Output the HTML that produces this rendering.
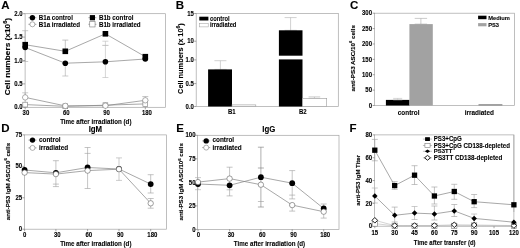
<!DOCTYPE html>
<html lang="en">
<head>
<meta charset="utf-8">
<title>Figure</title>
<style>
html,body{margin:0;padding:0;background:#fff;}
body{width:520px;height:248px;overflow:hidden;}
svg{display:block;font-family:"Liberation Sans",sans-serif;font-weight:bold;fill:#000;}
text{stroke:#000;stroke-width:0.1px;}
text.v{stroke-width:0.14px;}
</style>
</head>
<body>
<svg width="520" height="248" viewBox="0 0 520 248">
<rect x="0" y="0" width="520" height="248" fill="#fff"/>
<defs><filter id="soft" x="0" y="0" width="100%" height="100%" filterUnits="userSpaceOnUse"><feGaussianBlur stdDeviation="0.38"/></filter></defs>
<g id="fig" filter="url(#soft)">
<rect x="25.10" y="13.70" width="140.40" height="93.60" fill="none" stroke="#a4a4a4" stroke-width="0.7"/>
<text transform="translate(1.20,8.60) scale(1.0,1)" font-size="11.50" text-anchor="start">A</text>
<line x1="23.10" y1="13.70" x2="25.10" y2="13.70" stroke="#666" stroke-width="0.6"/>
<text transform="translate(22.60,15.86) scale(0.92,1)" font-size="6.52" text-anchor="end">2.0</text>
<line x1="23.10" y1="37.10" x2="25.10" y2="37.10" stroke="#666" stroke-width="0.6"/>
<text transform="translate(22.60,39.26) scale(0.92,1)" font-size="6.52" text-anchor="end">1.5</text>
<line x1="23.10" y1="60.50" x2="25.10" y2="60.50" stroke="#666" stroke-width="0.6"/>
<text transform="translate(22.60,62.66) scale(0.92,1)" font-size="6.52" text-anchor="end">1.0</text>
<line x1="23.10" y1="83.90" x2="25.10" y2="83.90" stroke="#666" stroke-width="0.6"/>
<text transform="translate(22.60,86.06) scale(0.92,1)" font-size="6.52" text-anchor="end">0.5</text>
<line x1="23.10" y1="107.30" x2="25.10" y2="107.30" stroke="#666" stroke-width="0.6"/>
<text transform="translate(22.60,109.46) scale(0.92,1)" font-size="6.52" text-anchor="end">0.0</text>
<line x1="25.20" y1="107.30" x2="25.20" y2="109.30" stroke="#666" stroke-width="0.6"/>
<line x1="65.30" y1="107.30" x2="65.30" y2="109.30" stroke="#666" stroke-width="0.6"/>
<line x1="105.40" y1="107.30" x2="105.40" y2="109.30" stroke="#666" stroke-width="0.6"/>
<line x1="145.30" y1="107.30" x2="145.30" y2="109.30" stroke="#666" stroke-width="0.6"/>
<text transform="translate(25.90,114.80) scale(0.92,1)" font-size="6.52" text-anchor="middle">30</text>
<text transform="translate(66.20,114.80) scale(0.92,1)" font-size="6.52" text-anchor="middle">60</text>
<text transform="translate(106.50,114.80) scale(0.92,1)" font-size="6.52" text-anchor="middle">90</text>
<text transform="translate(146.90,114.80) scale(0.92,1)" font-size="6.52" text-anchor="middle">180</text>
<text class="v" transform="translate(10.20,56.60) rotate(-90) scale(1,0.94)" font-size="8.3" text-anchor="middle">Cell numbers (x10<tspan dy="-3.49" font-size="5.64">6</tspan><tspan dy="3.49">)</tspan></text>
<text transform="translate(95.80,124.20) scale(0.92,1)" font-size="6.76" text-anchor="middle">Time after irradiation (d)</text>
<line x1="25.20" y1="30.70" x2="25.20" y2="61.50" stroke="#aaa" stroke-width="0.6"/>
<line x1="22.20" y1="30.70" x2="28.20" y2="30.70" stroke="#aaa" stroke-width="0.6"/>
<line x1="22.20" y1="61.50" x2="28.20" y2="61.50" stroke="#aaa" stroke-width="0.6"/>
<line x1="65.30" y1="40.10" x2="65.30" y2="51.00" stroke="#9c9c9c" stroke-width="0.6"/>
<line x1="62.30" y1="40.10" x2="68.30" y2="40.10" stroke="#9c9c9c" stroke-width="0.6"/>
<line x1="62.30" y1="51.00" x2="68.30" y2="51.00" stroke="#9c9c9c" stroke-width="0.6"/>
<line x1="65.30" y1="63.20" x2="65.30" y2="76.00" stroke="#aaa" stroke-width="0.6"/>
<line x1="62.30" y1="63.20" x2="68.30" y2="63.20" stroke="#aaa" stroke-width="0.6"/>
<line x1="62.30" y1="76.00" x2="68.30" y2="76.00" stroke="#aaa" stroke-width="0.6"/>
<line x1="105.40" y1="41.20" x2="105.40" y2="45.40" stroke="#b8b8b8" stroke-width="0.6"/>
<line x1="102.40" y1="41.20" x2="108.40" y2="41.20" stroke="#b8b8b8" stroke-width="0.6"/>
<line x1="102.40" y1="45.40" x2="108.40" y2="45.40" stroke="#b8b8b8" stroke-width="0.6"/>
<line x1="105.40" y1="45.40" x2="105.40" y2="77.50" stroke="#b8b8b8" stroke-width="0.6"/>
<line x1="102.40" y1="45.40" x2="108.40" y2="45.40" stroke="#b8b8b8" stroke-width="0.6"/>
<line x1="102.40" y1="77.50" x2="108.40" y2="77.50" stroke="#b8b8b8" stroke-width="0.6"/>
<line x1="25.20" y1="92.80" x2="25.20" y2="97.40" stroke="#aaa" stroke-width="0.6"/>
<line x1="22.20" y1="92.80" x2="28.20" y2="92.80" stroke="#aaa" stroke-width="0.6"/>
<line x1="22.20" y1="97.40" x2="28.20" y2="97.40" stroke="#aaa" stroke-width="0.6"/>
<line x1="145.30" y1="96.60" x2="145.30" y2="100.30" stroke="#999" stroke-width="0.6"/>
<line x1="142.30" y1="96.60" x2="148.30" y2="96.60" stroke="#999" stroke-width="0.6"/>
<line x1="142.30" y1="100.30" x2="148.30" y2="100.30" stroke="#999" stroke-width="0.6"/>
<polyline points="25.20,47.50 65.30,63.20 105.40,61.80 145.30,59.00" fill="none" stroke="#828282" stroke-width="0.7"/>
<polyline points="25.20,44.70 65.30,51.30 105.40,33.80 145.30,56.70" fill="none" stroke="#828282" stroke-width="0.7"/>
<polyline points="25.20,97.40 65.30,105.90 105.40,105.70 145.30,100.30" fill="none" stroke="#828282" stroke-width="0.7"/>
<polyline points="25.20,104.60 65.30,106.30 105.40,105.20 145.30,103.90" fill="none" stroke="#828282" stroke-width="0.7"/>
<rect x="22.80" y="102.20" width="4.80" height="4.80" fill="#fff" stroke="#7a7a7a" stroke-width="0.6"/>
<rect x="62.90" y="103.90" width="4.80" height="4.80" fill="#fff" stroke="#7a7a7a" stroke-width="0.6"/>
<rect x="103.00" y="102.80" width="4.80" height="4.80" fill="#fff" stroke="#7a7a7a" stroke-width="0.6"/>
<rect x="142.90" y="101.50" width="4.80" height="4.80" fill="#fff" stroke="#7a7a7a" stroke-width="0.6"/>
<circle cx="25.20" cy="97.40" r="2.7" fill="#fff" stroke="#7a7a7a" stroke-width="0.6"/>
<circle cx="65.30" cy="105.90" r="2.7" fill="#fff" stroke="#7a7a7a" stroke-width="0.6"/>
<circle cx="105.40" cy="105.70" r="2.7" fill="#fff" stroke="#7a7a7a" stroke-width="0.6"/>
<circle cx="145.30" cy="100.30" r="2.7" fill="#fff" stroke="#7a7a7a" stroke-width="0.6"/>
<circle cx="25.20" cy="47.50" r="2.8" fill="#000"/>
<circle cx="65.30" cy="63.20" r="2.8" fill="#000"/>
<circle cx="105.40" cy="61.80" r="2.8" fill="#000"/>
<circle cx="145.30" cy="59.00" r="2.8" fill="#000"/>
<rect x="22.40" y="41.90" width="5.60" height="5.60" fill="#000" stroke="none" stroke-width="0.7"/>
<rect x="62.50" y="48.50" width="5.60" height="5.60" fill="#000" stroke="none" stroke-width="0.7"/>
<rect x="102.60" y="31.00" width="5.60" height="5.60" fill="#000" stroke="none" stroke-width="0.7"/>
<rect x="142.50" y="53.90" width="5.60" height="5.60" fill="#000" stroke="none" stroke-width="0.7"/>
<line x1="28.40" y1="17.70" x2="36.40" y2="17.70" stroke="#828282" stroke-width="0.7"/>
<line x1="28.40" y1="24.30" x2="36.40" y2="24.30" stroke="#828282" stroke-width="0.7"/>
<circle cx="32.40" cy="17.70" r="2.7" fill="#000"/>
<circle cx="32.40" cy="24.30" r="2.5" fill="#fff" stroke="#7a7a7a" stroke-width="0.6"/>
<text transform="translate(38.70,19.90) scale(0.92,1)" font-size="6.76" text-anchor="start">B1a control</text>
<text transform="translate(38.70,26.50) scale(0.92,1)" font-size="6.76" text-anchor="start">B1a irradiated</text>
<line x1="88.40" y1="17.70" x2="96.40" y2="17.70" stroke="#828282" stroke-width="0.7"/>
<line x1="88.40" y1="24.30" x2="96.40" y2="24.30" stroke="#828282" stroke-width="0.7"/>
<rect x="89.80" y="15.10" width="5.20" height="5.20" fill="#000" stroke="none" stroke-width="0.7"/>
<rect x="89.75" y="21.65" width="5.30" height="5.30" fill="#fff" stroke="#7a7a7a" stroke-width="0.6"/>
<text transform="translate(98.90,19.90) scale(0.92,1)" font-size="6.76" text-anchor="start">B1b control</text>
<text transform="translate(98.90,26.50) scale(0.92,1)" font-size="6.76" text-anchor="start">B1b irradiated</text>
<rect x="196.20" y="13.50" width="142.10" height="93.00" fill="none" stroke="#a4a4a4" stroke-width="0.7"/>
<text transform="translate(175.70,9.20) scale(1.0,1)" font-size="11.50" text-anchor="start">B</text>
<line x1="194.20" y1="13.50" x2="196.20" y2="13.50" stroke="#666" stroke-width="0.6"/>
<text transform="translate(193.90,15.66) scale(0.92,1)" font-size="6.52" text-anchor="end">15</text>
<line x1="194.20" y1="41.20" x2="196.20" y2="41.20" stroke="#666" stroke-width="0.6"/>
<text transform="translate(193.90,43.36) scale(0.92,1)" font-size="6.52" text-anchor="end">10</text>
<line x1="194.20" y1="59.90" x2="196.20" y2="59.90" stroke="#666" stroke-width="0.6"/>
<text transform="translate(193.90,62.06) scale(0.92,1)" font-size="6.52" text-anchor="end">1.0</text>
<line x1="194.20" y1="83.60" x2="196.20" y2="83.60" stroke="#666" stroke-width="0.6"/>
<text transform="translate(193.90,85.76) scale(0.92,1)" font-size="6.52" text-anchor="end">0.5</text>
<line x1="194.20" y1="106.50" x2="196.20" y2="106.50" stroke="#666" stroke-width="0.6"/>
<text transform="translate(193.90,108.66) scale(0.92,1)" font-size="6.52" text-anchor="end">0.0</text>
<text class="v" transform="translate(182.90,58.60) rotate(-90) scale(1,0.95)" font-size="7.37" text-anchor="middle">Cell numbers (x 10<tspan dy="-3.10" font-size="5.01">6</tspan><tspan dy="3.10">)</tspan></text>
<line x1="220.40" y1="60.70" x2="220.40" y2="69.40" stroke="#b4b4b4" stroke-width="0.6"/>
<line x1="214.40" y1="60.70" x2="226.40" y2="60.70" stroke="#b4b4b4" stroke-width="0.6"/>
<line x1="214.40" y1="69.40" x2="226.40" y2="69.40" stroke="#b4b4b4" stroke-width="0.6"/>
<rect x="208.10" y="69.40" width="23.90" height="37.10" fill="#000" stroke="none" stroke-width="0.7"/>
<rect x="232.00" y="104.90" width="23.80" height="1.60" fill="#fff" stroke="#999" stroke-width="0.6"/>
<line x1="290.60" y1="17.60" x2="290.60" y2="30.30" stroke="#b0b0b0" stroke-width="0.6"/>
<line x1="284.60" y1="17.60" x2="296.60" y2="17.60" stroke="#b0b0b0" stroke-width="0.6"/>
<line x1="284.60" y1="30.30" x2="296.60" y2="30.30" stroke="#b0b0b0" stroke-width="0.6"/>
<rect x="278.90" y="30.30" width="23.60" height="76.20" fill="#000" stroke="none" stroke-width="0.7"/>
<rect x="277.50" y="55.70" width="26.50" height="3.70" fill="#fff" stroke="none" stroke-width="0.7"/>
<line x1="314.40" y1="96.90" x2="314.40" y2="98.40" stroke="#aaa" stroke-width="0.6"/>
<line x1="308.60" y1="96.90" x2="320.20" y2="96.90" stroke="#aaa" stroke-width="0.6"/>
<line x1="308.60" y1="98.40" x2="320.20" y2="98.40" stroke="#aaa" stroke-width="0.6"/>
<rect x="302.50" y="98.40" width="24.20" height="8.10" fill="#fff" stroke="#999" stroke-width="0.6"/>
<text transform="translate(231.80,114.40) scale(0.92,1)" font-size="6.52" text-anchor="middle">B1</text>
<text transform="translate(302.80,114.40) scale(0.92,1)" font-size="6.52" text-anchor="middle">B2</text>
<rect x="199.30" y="16.70" width="9.10" height="3.80" fill="#000" stroke="none" stroke-width="0.7"/>
<text transform="translate(210.00,20.70) scale(0.92,1)" font-size="6.30" text-anchor="start">control</text>
<rect x="199.50" y="23.40" width="8.70" height="3.50" fill="#fff" stroke="#999" stroke-width="0.5"/>
<text transform="translate(210.00,27.30) scale(0.92,1)" font-size="6.30" text-anchor="start">irradiated</text>
<rect x="374.60" y="13.20" width="139.80" height="92.30" fill="none" stroke="#a4a4a4" stroke-width="0.7"/>
<text transform="translate(350.00,9.00) scale(1.0,1)" font-size="11.50" text-anchor="start">C</text>
<line x1="372.60" y1="13.20" x2="374.60" y2="13.20" stroke="#666" stroke-width="0.6"/>
<text transform="translate(372.00,15.36) scale(0.92,1)" font-size="6.52" text-anchor="end">300</text>
<line x1="372.60" y1="28.58" x2="374.60" y2="28.58" stroke="#666" stroke-width="0.6"/>
<text transform="translate(372.00,30.74) scale(0.92,1)" font-size="6.52" text-anchor="end">250</text>
<line x1="372.60" y1="43.97" x2="374.60" y2="43.97" stroke="#666" stroke-width="0.6"/>
<text transform="translate(372.00,46.13) scale(0.92,1)" font-size="6.52" text-anchor="end">200</text>
<line x1="372.60" y1="59.35" x2="374.60" y2="59.35" stroke="#666" stroke-width="0.6"/>
<text transform="translate(372.00,61.51) scale(0.92,1)" font-size="6.52" text-anchor="end">150</text>
<line x1="372.60" y1="74.73" x2="374.60" y2="74.73" stroke="#666" stroke-width="0.6"/>
<text transform="translate(372.00,76.89) scale(0.92,1)" font-size="6.52" text-anchor="end">100</text>
<line x1="372.60" y1="90.12" x2="374.60" y2="90.12" stroke="#666" stroke-width="0.6"/>
<text transform="translate(372.00,92.28) scale(0.92,1)" font-size="6.52" text-anchor="end">50</text>
<line x1="372.60" y1="105.50" x2="374.60" y2="105.50" stroke="#666" stroke-width="0.6"/>
<text transform="translate(372.00,107.66) scale(0.92,1)" font-size="6.52" text-anchor="end">0</text>
<text class="v" transform="translate(354.90,58.20) rotate(-90) scale(1,1.0)" font-size="6.26" text-anchor="middle">anti-PS3 ASC/10<tspan dy="-2.63" font-size="4.26">6</tspan><tspan dy="2.63"> cells</tspan></text>
<rect x="385.90" y="99.90" width="23.60" height="5.60" fill="#000" stroke="none" stroke-width="0.7"/>
<line x1="397.70" y1="98.40" x2="397.70" y2="99.90" stroke="#bbb" stroke-width="0.6"/>
<line x1="393.20" y1="98.40" x2="402.20" y2="98.40" stroke="#bbb" stroke-width="0.6"/>
<line x1="393.20" y1="99.90" x2="402.20" y2="99.90" stroke="#bbb" stroke-width="0.6"/>
<line x1="420.90" y1="18.40" x2="420.90" y2="24.10" stroke="#a8a8a8" stroke-width="0.6"/>
<line x1="414.70" y1="18.40" x2="427.10" y2="18.40" stroke="#a8a8a8" stroke-width="0.6"/>
<line x1="414.70" y1="24.10" x2="427.10" y2="24.10" stroke="#a8a8a8" stroke-width="0.6"/>
<rect x="409.40" y="24.10" width="23.40" height="81.40" fill="#a2a2a2" stroke="none" stroke-width="0.7"/>
<rect x="478.50" y="104.20" width="23.90" height="1.30" fill="#8a8a8a" stroke="none" stroke-width="0.7"/>
<text transform="translate(408.60,115.20) scale(0.92,1)" font-size="6.96" text-anchor="middle">control</text>
<text transform="translate(479.30,115.20) scale(0.92,1)" font-size="6.96" text-anchor="middle">irradiated</text>
<rect x="478.10" y="15.70" width="8.40" height="3.50" fill="#000" stroke="none" stroke-width="0.7"/>
<text transform="translate(488.20,19.50) scale(0.92,1)" font-size="6.25" text-anchor="start">Medium</text>
<rect x="478.10" y="23.10" width="8.40" height="3.20" fill="#a2a2a2" stroke="none" stroke-width="0.7"/>
<text transform="translate(488.20,26.60) scale(0.92,1)" font-size="6.25" text-anchor="start">PS3</text>
<rect x="24.40" y="134.90" width="142.00" height="94.30" fill="none" stroke="#a4a4a4" stroke-width="0.7"/>
<text transform="translate(1.30,131.60) scale(1.0,1)" font-size="11.50" text-anchor="start">D</text>
<line x1="22.40" y1="134.90" x2="24.40" y2="134.90" stroke="#666" stroke-width="0.6"/>
<text transform="translate(22.20,137.06) scale(0.92,1)" font-size="6.52" text-anchor="end">75</text>
<line x1="22.40" y1="166.33" x2="24.40" y2="166.33" stroke="#666" stroke-width="0.6"/>
<text transform="translate(22.20,168.49) scale(0.92,1)" font-size="6.52" text-anchor="end">50</text>
<line x1="22.40" y1="197.77" x2="24.40" y2="197.77" stroke="#666" stroke-width="0.6"/>
<text transform="translate(22.20,199.93) scale(0.92,1)" font-size="6.52" text-anchor="end">25</text>
<line x1="22.40" y1="229.20" x2="24.40" y2="229.20" stroke="#666" stroke-width="0.6"/>
<text transform="translate(22.20,231.36) scale(0.92,1)" font-size="6.52" text-anchor="end">0</text>
<line x1="24.60" y1="229.20" x2="24.60" y2="231.20" stroke="#666" stroke-width="0.6"/>
<line x1="55.90" y1="229.20" x2="55.90" y2="231.20" stroke="#666" stroke-width="0.6"/>
<line x1="87.60" y1="229.20" x2="87.60" y2="231.20" stroke="#666" stroke-width="0.6"/>
<line x1="119.00" y1="229.20" x2="119.00" y2="231.20" stroke="#666" stroke-width="0.6"/>
<line x1="150.70" y1="229.20" x2="150.70" y2="231.20" stroke="#666" stroke-width="0.6"/>
<text transform="translate(24.70,236.80) scale(0.92,1)" font-size="6.52" text-anchor="middle">0</text>
<text transform="translate(57.20,236.80) scale(0.92,1)" font-size="6.52" text-anchor="middle">30</text>
<text transform="translate(88.80,236.80) scale(0.92,1)" font-size="6.52" text-anchor="middle">60</text>
<text transform="translate(120.20,236.80) scale(0.92,1)" font-size="6.52" text-anchor="middle">90</text>
<text transform="translate(152.30,236.80) scale(0.92,1)" font-size="6.52" text-anchor="middle">180</text>
<text class="v" transform="translate(9.90,181.60) rotate(-90) scale(1,1.0)" font-size="6.14" text-anchor="middle">anti-PS3 IgM ASC/10<tspan dy="-2.58" font-size="4.18">6</tspan><tspan dy="2.58"> cells</tspan></text>
<text transform="translate(95.80,246.00) scale(0.92,1)" font-size="6.76" text-anchor="middle">Time after irradiation (d)</text>
<text transform="translate(95.40,131.50) scale(0.92,1)" font-size="8.53" text-anchor="middle">IgM</text>
<line x1="55.90" y1="160.70" x2="55.90" y2="186.60" stroke="#9c9c9c" stroke-width="0.6"/>
<line x1="52.90" y1="160.70" x2="58.90" y2="160.70" stroke="#9c9c9c" stroke-width="0.6"/>
<line x1="52.90" y1="186.60" x2="58.90" y2="186.60" stroke="#9c9c9c" stroke-width="0.6"/>
<line x1="52.90" y1="184.10" x2="58.90" y2="184.10" stroke="#9c9c9c" stroke-width="0.6"/>
<line x1="87.60" y1="147.50" x2="87.60" y2="188.50" stroke="#9c9c9c" stroke-width="0.6"/>
<line x1="84.60" y1="147.50" x2="90.60" y2="147.50" stroke="#9c9c9c" stroke-width="0.6"/>
<line x1="84.60" y1="188.50" x2="90.60" y2="188.50" stroke="#9c9c9c" stroke-width="0.6"/>
<line x1="84.60" y1="153.40" x2="90.60" y2="153.40" stroke="#9c9c9c" stroke-width="0.6"/>
<line x1="119.00" y1="157.90" x2="119.00" y2="180.40" stroke="#aaa" stroke-width="0.6"/>
<line x1="116.00" y1="157.90" x2="122.00" y2="157.90" stroke="#aaa" stroke-width="0.6"/>
<line x1="116.00" y1="180.40" x2="122.00" y2="180.40" stroke="#aaa" stroke-width="0.6"/>
<line x1="150.70" y1="174.70" x2="150.70" y2="193.00" stroke="#9c9c9c" stroke-width="0.6"/>
<line x1="147.70" y1="174.70" x2="153.70" y2="174.70" stroke="#9c9c9c" stroke-width="0.6"/>
<line x1="147.70" y1="193.00" x2="153.70" y2="193.00" stroke="#9c9c9c" stroke-width="0.6"/>
<line x1="150.70" y1="198.50" x2="150.70" y2="208.20" stroke="#9c9c9c" stroke-width="0.6"/>
<line x1="147.70" y1="198.50" x2="153.70" y2="198.50" stroke="#9c9c9c" stroke-width="0.6"/>
<line x1="147.70" y1="208.20" x2="153.70" y2="208.20" stroke="#9c9c9c" stroke-width="0.6"/>
<polyline points="24.60,170.00 55.90,172.80 87.60,167.50 119.00,169.00 150.70,184.10" fill="none" stroke="#828282" stroke-width="0.7"/>
<polyline points="24.60,172.60 55.90,174.10 87.60,170.60 119.00,169.20 150.70,203.30" fill="none" stroke="#828282" stroke-width="0.7"/>
<circle cx="24.60" cy="170.00" r="2.9" fill="#000"/>
<circle cx="55.90" cy="172.80" r="2.9" fill="#000"/>
<circle cx="87.60" cy="167.50" r="2.9" fill="#000"/>
<circle cx="119.00" cy="169.00" r="2.9" fill="#000"/>
<circle cx="150.70" cy="184.10" r="2.9" fill="#000"/>
<circle cx="24.60" cy="172.60" r="2.7" fill="#fff" stroke="#606060" stroke-width="0.6"/>
<circle cx="55.90" cy="174.10" r="2.7" fill="#fff" stroke="#606060" stroke-width="0.6"/>
<circle cx="87.60" cy="170.60" r="2.7" fill="#fff" stroke="#606060" stroke-width="0.6"/>
<circle cx="119.00" cy="169.20" r="2.7" fill="#fff" stroke="#606060" stroke-width="0.6"/>
<circle cx="150.70" cy="203.30" r="2.7" fill="#fff" stroke="#606060" stroke-width="0.6"/>
<line x1="28.50" y1="140.10" x2="36.50" y2="140.10" stroke="#828282" stroke-width="0.7"/>
<line x1="28.50" y1="147.90" x2="36.50" y2="147.90" stroke="#828282" stroke-width="0.7"/>
<circle cx="32.50" cy="140.10" r="2.7" fill="#000"/>
<circle cx="32.50" cy="147.90" r="2.5" fill="#fff" stroke="#7a7a7a" stroke-width="0.6"/>
<text transform="translate(39.00,142.20) scale(0.92,1)" font-size="6.96" text-anchor="start">control</text>
<text transform="translate(39.00,149.60) scale(0.92,1)" font-size="6.96" text-anchor="start">irradiated</text>
<rect x="197.40" y="135.30" width="141.60" height="94.10" fill="none" stroke="#a4a4a4" stroke-width="0.7"/>
<text transform="translate(176.30,131.60) scale(1.0,1)" font-size="11.50" text-anchor="start">E</text>
<line x1="195.40" y1="135.30" x2="197.40" y2="135.30" stroke="#666" stroke-width="0.6"/>
<text transform="translate(195.50,137.46) scale(0.92,1)" font-size="6.52" text-anchor="end">100</text>
<line x1="195.40" y1="158.83" x2="197.40" y2="158.83" stroke="#666" stroke-width="0.6"/>
<text transform="translate(195.50,160.99) scale(0.92,1)" font-size="6.52" text-anchor="end">75</text>
<line x1="195.40" y1="182.35" x2="197.40" y2="182.35" stroke="#666" stroke-width="0.6"/>
<text transform="translate(195.50,184.51) scale(0.92,1)" font-size="6.52" text-anchor="end">50</text>
<line x1="195.40" y1="205.88" x2="197.40" y2="205.88" stroke="#666" stroke-width="0.6"/>
<text transform="translate(195.50,208.03) scale(0.92,1)" font-size="6.52" text-anchor="end">25</text>
<line x1="195.40" y1="229.40" x2="197.40" y2="229.40" stroke="#666" stroke-width="0.6"/>
<text transform="translate(195.50,231.56) scale(0.92,1)" font-size="6.52" text-anchor="end">0</text>
<line x1="198.00" y1="229.40" x2="198.00" y2="231.40" stroke="#666" stroke-width="0.6"/>
<line x1="229.60" y1="229.40" x2="229.60" y2="231.40" stroke="#666" stroke-width="0.6"/>
<line x1="260.90" y1="229.40" x2="260.90" y2="231.40" stroke="#666" stroke-width="0.6"/>
<line x1="292.20" y1="229.40" x2="292.20" y2="231.40" stroke="#666" stroke-width="0.6"/>
<line x1="323.70" y1="229.40" x2="323.70" y2="231.40" stroke="#666" stroke-width="0.6"/>
<text transform="translate(198.30,236.80) scale(0.92,1)" font-size="6.52" text-anchor="middle">0</text>
<text transform="translate(231.00,236.80) scale(0.92,1)" font-size="6.52" text-anchor="middle">30</text>
<text transform="translate(262.30,236.80) scale(0.92,1)" font-size="6.52" text-anchor="middle">60</text>
<text transform="translate(293.60,236.80) scale(0.92,1)" font-size="6.52" text-anchor="middle">90</text>
<text transform="translate(325.20,236.80) scale(0.92,1)" font-size="6.52" text-anchor="middle">180</text>
<text class="v" transform="translate(183.40,181.80) rotate(-90) scale(1,1.0)" font-size="6.14" text-anchor="middle">anti-PS3 IgM ASC/10<tspan dy="-2.58" font-size="4.18">6</tspan><tspan dy="2.58"> cells</tspan></text>
<text transform="translate(269.50,246.00) scale(0.92,1)" font-size="6.76" text-anchor="middle">Time after irradiation (d)</text>
<text transform="translate(268.90,131.90) scale(0.92,1)" font-size="8.53" text-anchor="middle">IgG</text>
<line x1="198.00" y1="177.60" x2="198.00" y2="189.70" stroke="#aaa" stroke-width="0.6"/>
<line x1="195.00" y1="177.60" x2="201.00" y2="177.60" stroke="#aaa" stroke-width="0.6"/>
<line x1="195.00" y1="189.70" x2="201.00" y2="189.70" stroke="#aaa" stroke-width="0.6"/>
<line x1="229.60" y1="167.20" x2="229.60" y2="195.90" stroke="#9c9c9c" stroke-width="0.6"/>
<line x1="226.60" y1="167.20" x2="232.60" y2="167.20" stroke="#9c9c9c" stroke-width="0.6"/>
<line x1="226.60" y1="195.90" x2="232.60" y2="195.90" stroke="#9c9c9c" stroke-width="0.6"/>
<line x1="226.60" y1="189.80" x2="232.60" y2="189.80" stroke="#9c9c9c" stroke-width="0.6"/>
<line x1="260.90" y1="147.20" x2="260.90" y2="207.00" stroke="#777" stroke-width="0.6"/>
<line x1="257.90" y1="147.20" x2="263.90" y2="147.20" stroke="#777" stroke-width="0.6"/>
<line x1="257.90" y1="207.00" x2="263.90" y2="207.00" stroke="#777" stroke-width="0.6"/>
<line x1="257.90" y1="168.00" x2="263.90" y2="168.00" stroke="#777" stroke-width="0.6"/>
<line x1="257.90" y1="201.50" x2="263.90" y2="201.50" stroke="#9c9c9c" stroke-width="0.6"/>
<line x1="292.20" y1="170.60" x2="292.20" y2="198.90" stroke="#9c9c9c" stroke-width="0.6"/>
<line x1="289.20" y1="170.60" x2="295.20" y2="170.60" stroke="#9c9c9c" stroke-width="0.6"/>
<line x1="289.20" y1="198.90" x2="295.20" y2="198.90" stroke="#9c9c9c" stroke-width="0.6"/>
<line x1="289.20" y1="195.10" x2="295.20" y2="195.10" stroke="#9c9c9c" stroke-width="0.6"/>
<line x1="292.20" y1="205.10" x2="292.20" y2="211.10" stroke="#9c9c9c" stroke-width="0.6"/>
<line x1="289.20" y1="205.10" x2="295.20" y2="205.10" stroke="#9c9c9c" stroke-width="0.6"/>
<line x1="289.20" y1="211.10" x2="295.20" y2="211.10" stroke="#9c9c9c" stroke-width="0.6"/>
<line x1="323.70" y1="204.00" x2="323.70" y2="218.10" stroke="#9c9c9c" stroke-width="0.6"/>
<line x1="320.70" y1="204.00" x2="326.70" y2="204.00" stroke="#9c9c9c" stroke-width="0.6"/>
<line x1="320.70" y1="218.10" x2="326.70" y2="218.10" stroke="#9c9c9c" stroke-width="0.6"/>
<polyline points="198.00,184.00 229.60,185.30 260.90,177.20 292.20,183.20 323.70,208.50" fill="none" stroke="#828282" stroke-width="0.7"/>
<polyline points="198.00,182.10 229.60,178.60 260.90,184.70 292.20,205.10 323.70,211.70" fill="none" stroke="#828282" stroke-width="0.7"/>
<circle cx="198.00" cy="184.00" r="2.9" fill="#000"/>
<circle cx="229.60" cy="185.30" r="2.9" fill="#000"/>
<circle cx="260.90" cy="177.20" r="2.9" fill="#000"/>
<circle cx="292.20" cy="183.20" r="2.9" fill="#000"/>
<circle cx="323.70" cy="208.50" r="2.9" fill="#000"/>
<circle cx="198.00" cy="182.10" r="2.7" fill="#fff" stroke="#606060" stroke-width="0.6"/>
<circle cx="229.60" cy="178.60" r="2.7" fill="#fff" stroke="#606060" stroke-width="0.6"/>
<circle cx="260.90" cy="184.70" r="2.7" fill="#fff" stroke="#606060" stroke-width="0.6"/>
<circle cx="292.20" cy="205.10" r="2.7" fill="#fff" stroke="#606060" stroke-width="0.6"/>
<circle cx="323.70" cy="211.70" r="2.7" fill="#fff" stroke="#606060" stroke-width="0.6"/>
<line x1="202.20" y1="140.90" x2="210.20" y2="140.90" stroke="#828282" stroke-width="0.7"/>
<line x1="202.20" y1="147.60" x2="210.20" y2="147.60" stroke="#828282" stroke-width="0.7"/>
<circle cx="206.20" cy="140.90" r="2.7" fill="#000"/>
<circle cx="206.20" cy="147.60" r="2.5" fill="#fff" stroke="#7a7a7a" stroke-width="0.6"/>
<text transform="translate(212.50,142.40) scale(0.92,1)" font-size="6.96" text-anchor="start">control</text>
<text transform="translate(212.50,149.50) scale(0.92,1)" font-size="6.96" text-anchor="start">irradiated</text>
<rect x="374.60" y="134.90" width="139.30" height="91.30" fill="none" stroke="#a4a4a4" stroke-width="0.7"/>
<text transform="translate(349.50,131.60) scale(1.0,1)" font-size="11.50" text-anchor="start">F</text>
<line x1="372.60" y1="134.90" x2="374.60" y2="134.90" stroke="#666" stroke-width="0.6"/>
<text transform="translate(372.20,137.06) scale(0.92,1)" font-size="6.52" text-anchor="end">80</text>
<line x1="372.60" y1="157.72" x2="374.60" y2="157.72" stroke="#666" stroke-width="0.6"/>
<text transform="translate(372.20,159.88) scale(0.92,1)" font-size="6.52" text-anchor="end">60</text>
<line x1="372.60" y1="180.55" x2="374.60" y2="180.55" stroke="#666" stroke-width="0.6"/>
<text transform="translate(372.20,182.71) scale(0.92,1)" font-size="6.52" text-anchor="end">40</text>
<line x1="372.60" y1="203.38" x2="374.60" y2="203.38" stroke="#666" stroke-width="0.6"/>
<text transform="translate(372.20,205.53) scale(0.92,1)" font-size="6.52" text-anchor="end">20</text>
<line x1="372.60" y1="226.20" x2="374.60" y2="226.20" stroke="#666" stroke-width="0.6"/>
<text transform="translate(372.20,228.36) scale(0.92,1)" font-size="6.52" text-anchor="end">0</text>
<line x1="374.80" y1="226.20" x2="374.80" y2="228.20" stroke="#666" stroke-width="0.6"/>
<line x1="394.67" y1="226.20" x2="394.67" y2="228.20" stroke="#666" stroke-width="0.6"/>
<line x1="414.54" y1="226.20" x2="414.54" y2="228.20" stroke="#666" stroke-width="0.6"/>
<line x1="434.41" y1="226.20" x2="434.41" y2="228.20" stroke="#666" stroke-width="0.6"/>
<line x1="454.28" y1="226.20" x2="454.28" y2="228.20" stroke="#666" stroke-width="0.6"/>
<line x1="474.15" y1="226.20" x2="474.15" y2="228.20" stroke="#666" stroke-width="0.6"/>
<line x1="494.02" y1="226.20" x2="494.02" y2="228.20" stroke="#666" stroke-width="0.6"/>
<line x1="513.89" y1="226.20" x2="513.89" y2="228.20" stroke="#666" stroke-width="0.6"/>
<text transform="translate(374.80,234.90) scale(0.92,1)" font-size="6.52" text-anchor="middle">15</text>
<text transform="translate(394.67,234.90) scale(0.92,1)" font-size="6.52" text-anchor="middle">30</text>
<text transform="translate(414.54,234.90) scale(0.92,1)" font-size="6.52" text-anchor="middle">45</text>
<text transform="translate(434.41,234.90) scale(0.92,1)" font-size="6.52" text-anchor="middle">60</text>
<text transform="translate(454.28,234.90) scale(0.92,1)" font-size="6.52" text-anchor="middle">75</text>
<text transform="translate(474.15,234.90) scale(0.92,1)" font-size="6.52" text-anchor="middle">90</text>
<text transform="translate(494.02,234.90) scale(0.92,1)" font-size="6.52" text-anchor="middle">105</text>
<text transform="translate(513.89,234.90) scale(0.92,1)" font-size="6.52" text-anchor="middle">120</text>
<text class="v" transform="translate(360.30,180.30) rotate(-90) scale(1,1.0)" font-size="6.02" text-anchor="middle">anti-PS3 IgM Titer</text>
<text transform="translate(444.70,245.00) scale(0.92,1)" font-size="6.52" text-anchor="middle">Time after transfer (d)</text>
<line x1="374.80" y1="139.40" x2="374.80" y2="160.80" stroke="#9c9c9c" stroke-width="0.6"/>
<line x1="371.80" y1="139.40" x2="377.80" y2="139.40" stroke="#9c9c9c" stroke-width="0.6"/>
<line x1="371.80" y1="160.80" x2="377.80" y2="160.80" stroke="#9c9c9c" stroke-width="0.6"/>
<line x1="394.67" y1="181.50" x2="394.67" y2="189.50" stroke="#aaa" stroke-width="0.6"/>
<line x1="391.67" y1="181.50" x2="397.67" y2="181.50" stroke="#aaa" stroke-width="0.6"/>
<line x1="391.67" y1="189.50" x2="397.67" y2="189.50" stroke="#aaa" stroke-width="0.6"/>
<line x1="414.54" y1="165.70" x2="414.54" y2="184.50" stroke="#9c9c9c" stroke-width="0.6"/>
<line x1="411.54" y1="165.70" x2="417.54" y2="165.70" stroke="#9c9c9c" stroke-width="0.6"/>
<line x1="411.54" y1="184.50" x2="417.54" y2="184.50" stroke="#9c9c9c" stroke-width="0.6"/>
<line x1="434.41" y1="187.00" x2="434.41" y2="204.00" stroke="#9c9c9c" stroke-width="0.6"/>
<line x1="431.41" y1="187.00" x2="437.41" y2="187.00" stroke="#9c9c9c" stroke-width="0.6"/>
<line x1="431.41" y1="204.00" x2="437.41" y2="204.00" stroke="#9c9c9c" stroke-width="0.6"/>
<line x1="454.28" y1="184.30" x2="454.28" y2="199.30" stroke="#9c9c9c" stroke-width="0.6"/>
<line x1="451.28" y1="184.30" x2="457.28" y2="184.30" stroke="#9c9c9c" stroke-width="0.6"/>
<line x1="451.28" y1="199.30" x2="457.28" y2="199.30" stroke="#9c9c9c" stroke-width="0.6"/>
<line x1="474.15" y1="194.50" x2="474.15" y2="207.60" stroke="#9c9c9c" stroke-width="0.6"/>
<line x1="471.15" y1="194.50" x2="477.15" y2="194.50" stroke="#9c9c9c" stroke-width="0.6"/>
<line x1="471.15" y1="207.60" x2="477.15" y2="207.60" stroke="#9c9c9c" stroke-width="0.6"/>
<line x1="513.89" y1="134.90" x2="513.89" y2="212.00" stroke="#9c9c9c" stroke-width="0.6"/>
<line x1="374.80" y1="188.00" x2="374.80" y2="203.00" stroke="#aaa" stroke-width="0.6"/>
<line x1="371.80" y1="188.00" x2="377.80" y2="188.00" stroke="#aaa" stroke-width="0.6"/>
<line x1="371.80" y1="203.00" x2="377.80" y2="203.00" stroke="#aaa" stroke-width="0.6"/>
<line x1="394.67" y1="207.10" x2="394.67" y2="222.00" stroke="#9c9c9c" stroke-width="0.6"/>
<line x1="391.67" y1="207.10" x2="397.67" y2="207.10" stroke="#9c9c9c" stroke-width="0.6"/>
<line x1="391.67" y1="222.00" x2="397.67" y2="222.00" stroke="#9c9c9c" stroke-width="0.6"/>
<line x1="414.54" y1="206.50" x2="414.54" y2="219.50" stroke="#aaa" stroke-width="0.6"/>
<line x1="411.54" y1="206.50" x2="417.54" y2="206.50" stroke="#aaa" stroke-width="0.6"/>
<line x1="411.54" y1="219.50" x2="417.54" y2="219.50" stroke="#aaa" stroke-width="0.6"/>
<line x1="434.41" y1="206.00" x2="434.41" y2="220.00" stroke="#9c9c9c" stroke-width="0.6"/>
<line x1="431.41" y1="206.00" x2="437.41" y2="206.00" stroke="#9c9c9c" stroke-width="0.6"/>
<line x1="431.41" y1="220.00" x2="437.41" y2="220.00" stroke="#9c9c9c" stroke-width="0.6"/>
<line x1="454.28" y1="204.50" x2="454.28" y2="216.50" stroke="#9c9c9c" stroke-width="0.6"/>
<line x1="451.28" y1="204.50" x2="457.28" y2="204.50" stroke="#9c9c9c" stroke-width="0.6"/>
<line x1="451.28" y1="216.50" x2="457.28" y2="216.50" stroke="#9c9c9c" stroke-width="0.6"/>
<line x1="474.15" y1="214.00" x2="474.15" y2="222.50" stroke="#aaa" stroke-width="0.6"/>
<line x1="471.15" y1="214.00" x2="477.15" y2="214.00" stroke="#aaa" stroke-width="0.6"/>
<line x1="471.15" y1="222.50" x2="477.15" y2="222.50" stroke="#aaa" stroke-width="0.6"/>
<polyline points="374.80,150.20 394.67,185.60 414.54,175.20 434.41,196.00 454.28,191.50 474.15,201.70 513.89,204.80" fill="none" stroke="#828282" stroke-width="0.7"/>
<polyline points="374.80,196.00 394.67,215.30 414.54,213.10 434.41,213.90 454.28,210.90 474.15,218.40 513.89,222.20" fill="none" stroke="#828282" stroke-width="0.7"/>
<polyline points="374.80,223.60 394.67,225.90 414.54,225.90 434.41,225.90 454.28,225.80 474.15,225.80 513.89,226.00" fill="none" stroke="#a8a8a8" stroke-width="0.5"/>
<polyline points="374.80,220.30 394.67,225.60 414.54,225.50 434.41,225.50 454.28,224.80 474.15,225.00 513.89,225.60" fill="none" stroke="#a8a8a8" stroke-width="0.5"/>
<rect x="372.20" y="221.00" width="5.20" height="5.20" fill="#fff" stroke="#7a7a7a" stroke-width="0.6"/>
<rect x="392.07" y="223.30" width="5.20" height="5.20" fill="#fff" stroke="#7a7a7a" stroke-width="0.6"/>
<rect x="411.94" y="223.30" width="5.20" height="5.20" fill="#fff" stroke="#7a7a7a" stroke-width="0.6"/>
<rect x="431.81" y="223.30" width="5.20" height="5.20" fill="#fff" stroke="#7a7a7a" stroke-width="0.6"/>
<rect x="451.68" y="223.20" width="5.20" height="5.20" fill="#fff" stroke="#7a7a7a" stroke-width="0.6"/>
<rect x="471.55" y="223.20" width="5.20" height="5.20" fill="#fff" stroke="#7a7a7a" stroke-width="0.6"/>
<rect x="511.29" y="223.40" width="5.20" height="5.20" fill="#fff" stroke="#7a7a7a" stroke-width="0.6"/>
<polygon points="374.80,217.50 377.60,220.30 374.80,223.10 372.00,220.30" fill="#fff" stroke="#1a1a1a" stroke-width="1.0"/>
<polygon points="394.67,222.80 397.47,225.60 394.67,228.40 391.87,225.60" fill="#fff" stroke="#1a1a1a" stroke-width="1.0"/>
<polygon points="414.54,222.70 417.34,225.50 414.54,228.30 411.74,225.50" fill="#fff" stroke="#1a1a1a" stroke-width="1.0"/>
<polygon points="434.41,222.70 437.21,225.50 434.41,228.30 431.61,225.50" fill="#fff" stroke="#1a1a1a" stroke-width="1.0"/>
<polygon points="454.28,222.00 457.08,224.80 454.28,227.60 451.48,224.80" fill="#fff" stroke="#1a1a1a" stroke-width="1.0"/>
<polygon points="474.15,222.20 476.95,225.00 474.15,227.80 471.35,225.00" fill="#fff" stroke="#1a1a1a" stroke-width="1.0"/>
<polygon points="513.89,222.80 516.69,225.60 513.89,228.40 511.09,225.60" fill="#fff" stroke="#1a1a1a" stroke-width="1.0"/>
<polygon points="374.80,193.25 377.55,196.00 374.80,198.75 372.05,196.00" fill="#000"/>
<polygon points="394.67,212.55 397.42,215.30 394.67,218.05 391.92,215.30" fill="#000"/>
<polygon points="414.54,210.35 417.29,213.10 414.54,215.85 411.79,213.10" fill="#000"/>
<polygon points="434.41,211.15 437.16,213.90 434.41,216.65 431.66,213.90" fill="#000"/>
<polygon points="454.28,208.15 457.03,210.90 454.28,213.65 451.53,210.90" fill="#000"/>
<polygon points="474.15,215.65 476.90,218.40 474.15,221.15 471.40,218.40" fill="#000"/>
<polygon points="513.89,219.45 516.64,222.20 513.89,224.95 511.14,222.20" fill="#000"/>
<rect x="372.15" y="147.55" width="5.30" height="5.30" fill="#000" stroke="none" stroke-width="0.7"/>
<rect x="392.02" y="182.95" width="5.30" height="5.30" fill="#000" stroke="none" stroke-width="0.7"/>
<rect x="411.89" y="172.55" width="5.30" height="5.30" fill="#000" stroke="none" stroke-width="0.7"/>
<rect x="431.76" y="193.35" width="5.30" height="5.30" fill="#000" stroke="none" stroke-width="0.7"/>
<rect x="451.63" y="188.85" width="5.30" height="5.30" fill="#000" stroke="none" stroke-width="0.7"/>
<rect x="471.50" y="199.05" width="5.30" height="5.30" fill="#000" stroke="none" stroke-width="0.7"/>
<rect x="511.24" y="202.15" width="5.30" height="5.30" fill="#000" stroke="none" stroke-width="0.7"/>
<line x1="422.90" y1="139.10" x2="432.10" y2="139.10" stroke="#999" stroke-width="0.6"/>
<line x1="422.90" y1="145.50" x2="432.10" y2="145.50" stroke="#999" stroke-width="0.6"/>
<line x1="422.90" y1="151.30" x2="432.10" y2="151.30" stroke="#999" stroke-width="0.6"/>
<line x1="422.90" y1="157.80" x2="432.10" y2="157.80" stroke="#999" stroke-width="0.6"/>
<rect x="425.10" y="137.20" width="4.80" height="3.80" fill="#000" stroke="none" stroke-width="0.7"/>
<rect x="424.90" y="143.50" width="5.20" height="4.00" fill="#fff" stroke="#7a7a7a" stroke-width="0.6"/>
<polygon points="427.50,149.60 430.10,151.30 427.50,153.00 424.90,151.30" fill="#000"/>
<polygon points="427.50,155.40 430.50,157.80 427.50,160.20 424.50,157.80" fill="#fff" stroke="#1a1a1a" stroke-width="1.0"/>
<text transform="translate(433.70,141.10) scale(0.92,1)" font-size="6.68" text-anchor="start">PS3+CpG</text>
<text transform="translate(433.70,147.50) scale(0.92,1)" font-size="6.68" text-anchor="start">PS3+CpG CD138-depleted</text>
<text transform="translate(433.70,153.30) scale(1.18,1)" font-size="5.08" text-anchor="start">PS3TT</text>
<text transform="translate(433.70,159.70) scale(0.92,1)" font-size="6.82" text-anchor="start">PS3TT CD138-depleted</text>
</g>
</svg>
</body>
</html>
